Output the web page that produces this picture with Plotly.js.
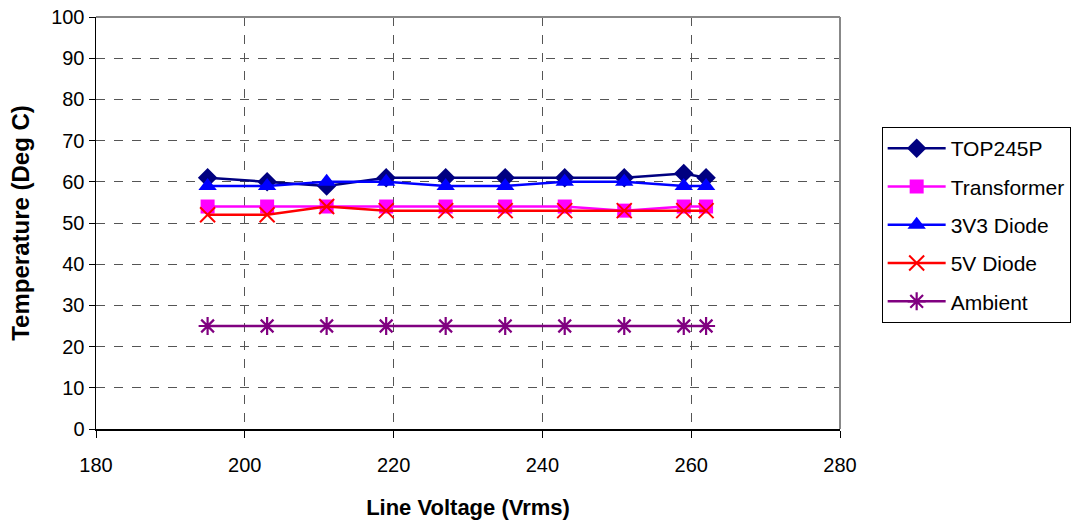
<!DOCTYPE html>
<html>
<head>
<meta charset="utf-8">
<script src="https://cdn.plot.ly/plotly-3.0.1.min.js"></script>
<style>html,body{margin:0;padding:0;background:#fff;}#chart{width:1075px;height:523px;}</style>
</head>
<body>
<div id="chart"></div>
<script>
const voltage = [195, 203, 211, 219, 227, 235, 243, 251, 259, 262];
const top245p = [61, 60, 59, 61, 61, 61, 61, 61, 62, 61];
const transformer = [54, 54, 54, 54, 54, 54, 54, 53, 54, 54];
const diode3v3 = [59, 59, 60, 60, 59, 59, 60, 60, 59, 59];
const diode5v = [52, 52, 54, 53, 53, 53, 53, 53, 53, 53];
const ambient = [25, 25, 25, 25, 25, 25, 25, 25, 25, 25];
const seriesNames = ['TOP245P', 'Transformer', '3V3 Diode', '5V Diode', 'Ambient'];

const font = 'Liberation Sans, Arial, sans-serif';
function tr(name, y, color, symbol, size, mline) {
  return {
    x: voltage, y: y, name: name, type: 'scatter', mode: 'lines+markers',
    legendgroup: name,
    line: {color: color, width: 2.5},
    marker: {symbol: symbol, size: size, color: color, line: {color: color, width: mline}}
  };
}
const data = [
  tr(seriesNames[0], top245p, '#000080', 'diamond', 15, 0),
  tr(seriesNames[1], transformer, '#FF00FF', 'square', 14, 0),
  tr(seriesNames[2], diode3v3, '#0000FF', 'triangle-up', 16, 0),
  tr(seriesNames[3], diode5v, '#FF0000', 'x-thin', 15, 2),
  tr(seriesNames[4], ambient, '#800080', 'asterisk', 15, 2.2)
];
const layout = {
  width: 1075, height: 523,
  margin: {l: 96, r: 235, t: 17, b: 94, autoexpand: false},
  paper_bgcolor: '#fff', plot_bgcolor: '#fff',
  font: {family: font, size: 20, color: '#000'},
  showlegend: true,
  legend: {
    x: 1.056, xanchor: 'left', y: 0.733, yanchor: 'top',
    bordercolor: '#000', borderwidth: 1, bgcolor: '#fff',
    font: {family: font, size: 21}, traceorder: 'grouped', tracegroupgap: 8,
    itemwidth: 58
  },
  xaxis: {
    range: [180, 280], tickmode: 'linear', tick0: 180, dtick: 20,
    ticks: 'outside', ticklen: 7, tickcolor: '#000', ticklabelstandoff: 10,
    showline: true, linecolor: '#000', linewidth: 1.5,
    showgrid: true, gridcolor: '#555', griddash: 'dash', gridwidth: 1,
    zeroline: false, tickfont: {family: font, size: 20},
    title: {text: '<b>Line Voltage (Vrms)</b>', font: {family: font, size: 22}, standoff: 25}
  },
  yaxis: {
    range: [0, 100], tickmode: 'linear', tick0: 0, dtick: 10,
    ticks: 'outside', ticklen: 6, tickcolor: '#000',
    showline: true, linecolor: '#000', linewidth: 1.5,
    showgrid: true, gridcolor: '#555', griddash: 'dash', gridwidth: 1,
    zeroline: false, tickfont: {family: font, size: 20},
    title: {text: '<b>Temperature (Deg C)</b>', font: {family: font, size: 24}, standoff: 14}
  },
  shapes: [
    {type: 'line', xref: 'paper', yref: 'paper', x0: 0, x1: 1, y0: 1, y1: 1, line: {color: '#888', width: 2}},
    {type: 'line', xref: 'paper', yref: 'paper', x0: 1, x1: 1, y0: 0, y1: 1, line: {color: '#888', width: 2}}
  ]
};
Plotly.newPlot('chart', data, layout, {displayModeBar: false, staticPlot: true});
</script>
</body>
</html>
